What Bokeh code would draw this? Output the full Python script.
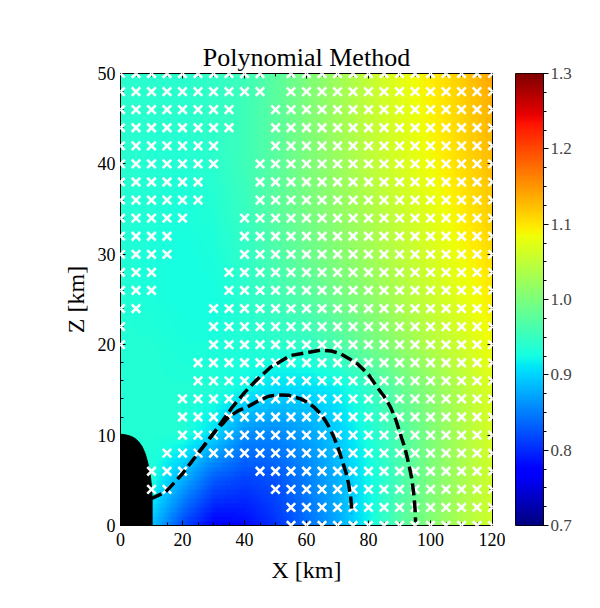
import numpy as np
from bokeh.plotting import figure
from bokeh.models import (LinearColorMapper, SingleIntervalTicker, FixedTicker, LinearAxis,
                          Range1d, PrintfTickFormatter, CustomJSTickFormatter)
from bokeh.layouts import row
from bokeh.embed import file_html
from bokeh.resources import INLINE

# ---------------- data ----------------
TITLE = "Polynomial Method"
X_LABEL = "X [km]"
Z_LABEL = "Z [km]"

# coarse field (rows: Z = 0,5,...,50 ; cols: X = 0,10,...,120)
field_x = [0, 10, 20, 30, 40, 50, 60, 70, 80, 90, 100, 110, 120]
field_z = [0, 5, 10, 15, 20, 25, 30, 35, 40, 45, 50]
field_z0 = [0.89, 0.89, 0.82, 0.775, 0.78, 0.805, 0.84, 0.875, 0.92, 0.97, 1.005, 1.035, 1.06]
field_z5 = [0.93, 0.93, 0.88, 0.83, 0.815, 0.825, 0.85, 0.88, 0.92, 0.96, 1.0, 1.03, 1.06]
field_z10 = [0.935, 0.935, 0.935, 0.905, 0.86, 0.855, 0.87, 0.895, 0.93, 0.965, 1.0, 1.035, 1.065]
field_z15 = [0.935, 0.935, 0.935, 0.935, 0.92, 0.905, 0.905, 0.915, 0.945, 0.98, 1.01, 1.04, 1.07]
field_z20 = [0.935, 0.935, 0.93, 0.93, 0.935, 0.94, 0.945, 0.965, 0.99, 1.015, 1.04, 1.06, 1.085]
field_z25 = [0.935, 0.93, 0.925, 0.925, 0.94, 0.955, 0.97, 0.99, 1.01, 1.035, 1.055, 1.075, 1.095]
field_z30 = [0.935, 0.93, 0.925, 0.93, 0.945, 0.965, 0.985, 1.005, 1.025, 1.045, 1.065, 1.085, 1.105]
field_z35 = [0.935, 0.935, 0.93, 0.935, 0.95, 0.975, 0.995, 1.015, 1.035, 1.055, 1.075, 1.095, 1.115]
field_z40 = [0.94, 0.935, 0.935, 0.94, 0.955, 0.975, 1.0, 1.02, 1.045, 1.065, 1.085, 1.105, 1.125]
field_z45 = [0.94, 0.94, 0.94, 0.945, 0.955, 0.975, 1.0, 1.025, 1.05, 1.07, 1.09, 1.11, 1.13]
field_z50 = [0.94, 0.94, 0.94, 0.945, 0.955, 0.975, 1.0, 1.025, 1.05, 1.075, 1.095, 1.115, 1.14]
field_rows = [field_z0, field_z5, field_z10, field_z15, field_z20, field_z25,
              field_z30, field_z35, field_z40, field_z45, field_z50]

# marker grid: columns X, rows Z (top to bottom); 'x' = marker drawn
marker_x = [0, 5, 10, 15, 20, 25, 30, 35, 40, 45, 50, 55, 60, 65, 70, 75, 80, 85, 90, 95,
            100, 105, 110, 115, 120]
marker_z = [50, 48, 46, 44, 42, 40, 38, 36, 34, 32, 30, 28, 26, 24, 22, 20, 18, 16, 14, 12,
            10, 8, 6, 4, 2, 0]
marker_mask = [
    "xxxxxxxxxx.xxxxxxxxxxxxxx",  # 50
    "xxxxxxxxxx.xxxxxxxxxxxxxx",  # 48
    "xxxxxxxx..xxxxxxxxxxxxxxx",  # 46
    "xxxxxxxx..xxxxxxxxxxxxxxx",  # 44
    "xxxxxxx...xxxxxxxxxxxxxxx",  # 42
    "xxxxxxx..xxxxxxxxxxxxxxxx",  # 40
    "xxxxxx...xxxxxxxxxxxxxxxx",  # 38
    "xxxxxx...xxxxxxxxxxxxxxxx",  # 36
    "xxxxx...xxxxxxxxxxxxxxxxx",  # 34
    "xxxx....xxxxxxxxxxxxxxxxx",  # 32
    "xxxx....xxxxxxxxxxxxxxxxx",  # 30
    "xxx....xxxxxxxxxxxxxxxxxx",  # 28
    "xxx....xxxxxxxxxxxxxxxxxx",  # 26
    "xx....xxxxxxxxxxxxxxxxxxx",  # 24
    "x.....xxxxxxxxxxxxxxxxxxx",  # 22
    "x.....xxxxxxxxxxxxxxxxxxx",  # 20
    ".....xxxxxxxxxxxxxxxxxxxx",  # 18
    ".....xxxxxxxxxxxxxxxxxxxx",  # 16
    "....xxxxxxxxxxxxxxxxxxxxx",  # 14
    "....xxxxxxxxxxxxxxxxxxxxx",  # 12
    "....xxxxxxxxxxxxxxxxxxxxx",  # 10
    "...xxxxxxxxxxxxxxxxxxxxxx",  # 8
    "..xxx....xxxxxxxxxxxxxxxx",  # 6
    "..xx......xxxxxxxxxxxxxxx",  # 4
    "...........xxxxxxxxxxxxxx",  # 2
    "...........xxxxxxxxxxxxxx",  # 0
]

# dashed contours
outer_x = [9.7, 12.0, 14.5, 17.0, 19.9, 22.6, 25.3, 28.0, 30.7, 33.4, 36.1, 40.0, 43.6, 48.4,
           54.8, 58.1, 61.3, 64.5, 68.0, 71.0, 76.4, 80.0, 82.8, 85.0, 87.1, 88.8, 90.3, 91.8,
           93.0, 94.0, 94.6, 95.0, 95.2]
outer_z = [2.95, 3.3, 3.7, 4.6, 5.7, 6.9, 8.1, 9.3, 10.5, 11.8, 13.1, 14.7, 16.0, 17.5,
           18.8, 19.0, 19.2, 19.4, 19.3, 19.0, 17.9, 16.7, 15.3, 14.3, 13.1, 11.7, 10.1, 8.5,
           6.8, 5.1, 3.5, 1.9, 0.4]
inner_x = [25.3, 28.0, 30.7, 32.8, 34.9, 38.0, 41.4, 44.5, 47.8, 51.0, 54.3, 58.1, 60.5, 62.4,
           64.4, 66.1, 67.6, 68.8, 70.3, 71.5, 72.7, 73.6, 74.3, 74.7]
inner_z = [8.1, 9.3, 10.5, 11.2, 12.0, 12.7, 13.2, 13.8, 14.3, 14.45, 14.4, 14.0, 13.6, 13.1,
           12.4, 11.6, 10.7, 9.8, 8.5, 7.2, 5.9, 4.6, 3.0, 1.3]

# black central object outline
star_x = [0, 2.0, 3.5, 4.8, 6.0, 7.0, 7.9, 8.6, 9.2, 9.7, 10.0, 10.2, 10.2, 0]
star_z = [10.1, 10.0, 9.85, 9.6, 9.2, 8.7, 8.0, 7.2, 6.3, 5.3, 4.2, 3.1, 0, 0]

cbar_low, cbar_high = 0.7, 1.3
cbar_ticks = [0.7, 0.8, 0.9, 1.0, 1.1, 1.2, 1.3]
cbar_minor = [0.7, 0.725, 0.75, 0.775, 0.8, 0.825, 0.85, 0.875, 0.9, 0.925, 0.95, 0.975,
              1.0, 1.025, 1.05, 1.075, 1.1, 1.125, 1.15, 1.175, 1.2, 1.225, 1.25, 1.275, 1.3]


# ---------------- style helpers ----------------
def jet_palette(n=256):
    t = np.linspace(0, 1, n)
    r = np.interp(t, [0, 0.35, 0.66, 0.89, 1], [0, 0, 1, 1, 0.5])
    g = np.interp(t, [0, 0.125, 0.375, 0.64, 0.91, 1], [0, 0, 1, 1, 0, 0])
    b = np.interp(t, [0, 0.11, 0.34, 0.65, 1], [0.5, 1, 1, 0, 0])
    return ["#%02x%02x%02x" % (int(round(255 * a)), int(round(255 * c)), int(round(255 * d)))
            for a, c, d in zip(r, g, b)]


SERIF = "Liberation Serif"
mapper = LinearColorMapper(palette=jet_palette(), low=cbar_low, high=cbar_high)

# smooth rendering of the coarse field
fx = np.linspace(0, 120, 241)
fz = np.linspace(0, 50, 101)
tmp = np.array([np.interp(fx, field_x, r) for r in field_rows])
fine = np.array([np.interp(fz, field_z, tmp[:, j]) for j in range(len(fx))]).T

# ---------------- main figure ----------------
X0, X1 = marker_x[0], marker_x[-1]
Z0, Z1 = marker_z[-1], marker_z[0]
p = figure(width=505, height=608, x_range=Range1d(X0, X1), y_range=Range1d(Z0, Z1),
           output_backend="svg", toolbar_location=None,
           min_border_left=120, min_border_right=13, min_border_top=73, min_border_bottom=83)
p.grid.visible = False
p.outline_line_color = "black"
p.outline_line_width = 1

p.title.text = TITLE
p.title.align = "center"
p.title.text_font = SERIF
p.title.text_font_size = "26px"
p.title.text_font_style = "normal"
p.title.text_color = "black"
p.title.standoff = 4

p.image(image=[fine], x=X0, y=Z0, dw=X1 - X0, dh=Z1 - Z0, color_mapper=mapper, level="image")
p.patch(star_x, star_z, fill_color="black", line_color="black", level="underlay")

# split markers into interior ones and ones sitting on the frame edge
ix, iz, ex, ez = [], [], [], []
for zi, rowstr in zip(marker_z, marker_mask):
    for xi, ch in zip(marker_x, rowstr):
        if ch == "x":
            if xi in (X0, X1) or zi in (Z0, Z1):
                ex.append(xi)
                ez.append(zi)
            else:
                ix.append(xi)
                iz.append(zi)
p.scatter(ix, iz, marker="x", size=12, line_color="white", line_width=2.6)

# edge markers: only the arms of each cross that lie inside the frame (the rest is cut off)
HX, HZ = 4.2 / 3.1, 4.2 / 9.04   # half-size of a cross in data units (about 4 px)
DX, DZ = 0.05, 0.02              # keep the arm roots just inside the frame edge
sx0, sy0, sx1, sy1 = [], [], [], []
for xc, zc in zip(ex, ez):
    for ax_, az_ in ((1, 1), (1, -1), (-1, 1), (-1, -1)):
        xe, ze = xc + ax_ * HX, zc + az_ * HZ
        if X0 <= xe <= X1 and Z0 <= ze <= Z1:
            sx0.append(min(max(xc, X0 + DX), X1 - DX))
            sy0.append(min(max(zc, Z0 + DZ), Z1 - DZ))
            sx1.append(xe)
            sy1.append(ze)
p.segment(x0=sx0, y0=sy0, x1=sx1, y1=sy1, line_color="white", line_width=2.6,
          line_cap="butt", level="overlay")

p.line(outer_x, outer_z, line_color="black", line_width=3.5, line_dash="12 5")
p.line(inner_x, inner_z, line_color="black", line_width=3.5, line_dash="12 5")

xax = p.below[0]
yax = p.left[0]
xt = SingleIntervalTicker(interval=20, num_minor_ticks=4)
yt = SingleIntervalTicker(interval=10, num_minor_ticks=5)
xax.ticker = xt
yax.ticker = yt
top_ax = LinearAxis(ticker=xt, formatter=CustomJSTickFormatter(code="return ''"))
right_ax = LinearAxis(ticker=yt, formatter=CustomJSTickFormatter(code="return ''"))
p.add_layout(top_ax, "above")
p.add_layout(right_ax, "right")
for ax in (xax, yax, top_ax, right_ax):
    ax.major_tick_in = 5
    ax.major_tick_out = 0
    ax.minor_tick_in = 3
    ax.minor_tick_out = 0
    ax.axis_line_color = "black"
    ax.major_tick_line_color = "black"
    ax.minor_tick_line_color = "black"
    ax.major_label_text_font = SERIF
    ax.major_label_text_font_size = "18px"
    ax.major_label_text_color = "black"
    ax.major_label_standoff = 0
top_ax.major_label_text_font_size = "1px"
right_ax.major_label_text_font_size = "1px"

xax.major_label_standoff = 7
yax.major_label_standoff = 5
xax.axis_label = X_LABEL
yax.axis_label = Z_LABEL
for ax in (xax, yax):
    ax.axis_label_text_font = SERIF
    ax.axis_label_text_font_size = "24px"
    ax.axis_label_text_font_style = "normal"
    ax.axis_label_text_color = "black"
xax.axis_label_standoff = 8
yax.axis_label_standoff = 6

# ---------------- colorbar figure ----------------
cb = figure(width=95, height=608, x_range=Range1d(0, 1), y_range=Range1d(cbar_low, cbar_high),
            output_backend="svg", toolbar_location=None, y_axis_location="right",
            min_border_left=10, min_border_right=57, min_border_top=73, min_border_bottom=83)
cb.grid.visible = False
cb.xaxis.visible = False
cb.outline_line_color = "black"
cb.image(image=[np.linspace(cbar_low, cbar_high, 256).reshape(256, 1)], x=0, y=cbar_low,
         dw=1, dh=cbar_high - cbar_low, color_mapper=mapper)
cax = cb.yaxis[0]
cax.ticker = FixedTicker(ticks=cbar_ticks, minor_ticks=cbar_minor)
cax.formatter = PrintfTickFormatter(format="%.1f")
cax.major_tick_in = 0
cax.major_tick_out = 5
cax.minor_tick_in = 0
cax.minor_tick_out = 3
cax.axis_line_color = "black"
cax.major_label_text_font = SERIF
cax.major_label_text_font_size = "17px"
cax.major_label_standoff = 2

layout = row(p, cb)
open("out.html", "w").write(file_html(layout, INLINE))
